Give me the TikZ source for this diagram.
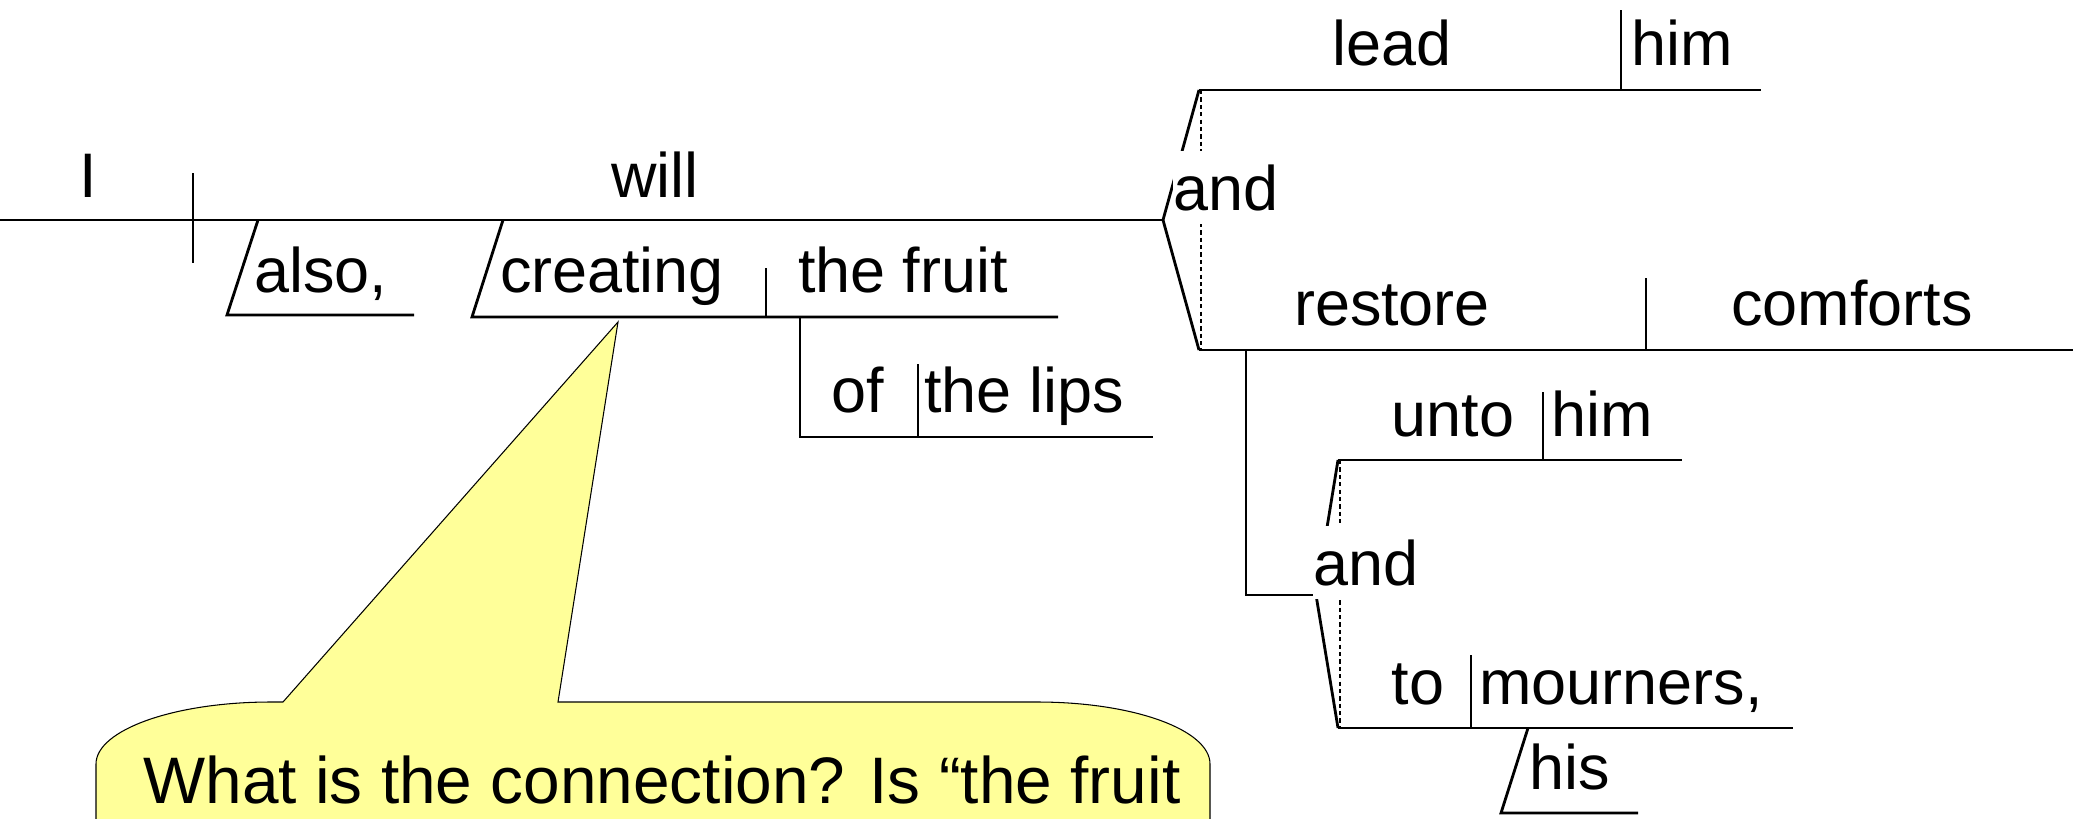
\documentclass[tikz,border=0pt]{standalone}
\usepackage{fontspec}
\setmainfont{Liberation Sans}
\definecolor{calloutyellow}{HTML}{FFFF99}
\begin{document}
\begin{tikzpicture}[x=0.01cm,y=-0.01cm,
  word/.style={anchor=base,inner sep=0pt,font=\fontsize{17.9pt}{21pt}\selectfont},
  bigword/.style={anchor=base,inner sep=0pt,font=\fontsize{18.7pt}{22pt}\selectfont},
  rule/.style={line width=0.8pt},
  dotrule/.style={line width=0.35pt,dash pattern=on 1.2pt off 0.9pt},
  conj/.style={word,fill=white,inner xsep=0.01cm,inner ysep=0.13cm},
  balloon/.style={fill=calloutyellow,draw=black,line width=0.3pt}]
\useasboundingbox (0,0) rectangle (2073,818);

% callout
\draw[balloon] (283,702) -- (618,322) -- (558,702) -- (1037,702)
  .. controls (1134,702) and (1210,730) .. (1210,764) -- (1210,900)
  -- (96,900) -- (96,764) .. controls (96,730) and (174,702) .. (271,702) -- cycle;
\node[bigword] (q) at (662,803) {What is the connection? Is “the fruit};

% coordinates
\coordinate (m0) at (0,220);
\coordinate (j1) at (1163,220);
\coordinate (sv1) at (193,173);
\coordinate (sv2) at (193,263);
\coordinate (al1) at (258,220);
\coordinate (al2) at (227,315);
\coordinate (al3) at (414,315);
\coordinate (cr1) at (503,220);
\coordinate (cr2) at (472,317);
\coordinate (cr3) at (1058,317);
\coordinate (cd1) at (766,268);
\coordinate (cd2) at (766,317);
\coordinate (of1) at (800,317);
\coordinate (of2) at (800,437);
\coordinate (of3) at (1153,437);
\coordinate (od1) at (918,364);
\coordinate (od2) at (918,437);
\coordinate (up1) at (1199,90);
\coordinate (up2) at (1761,90);
\coordinate (ud1) at (1621,10);
\coordinate (ud2) at (1621,90);
\coordinate (lo1) at (1199,350);
\coordinate (lo2) at (2073,350);
\coordinate (ld1) at (1646,278);
\coordinate (ld2) at (1646,350);
\coordinate (da1) at (1201,90);
\coordinate (da2) at (1201,350);
\coordinate (v1) at (1246,350);
\coordinate (v2) at (1246,595);
\coordinate (j2) at (1316,595);
\coordinate (un1) at (1338,460);
\coordinate (un2) at (1682,460);
\coordinate (und1) at (1543,392);
\coordinate (und2) at (1543,460);
\coordinate (mo1) at (1338,728);
\coordinate (mo2) at (1793,728);
\coordinate (mod1) at (1471,655);
\coordinate (mod2) at (1471,728);
\coordinate (db1) at (1340,460);
\coordinate (db2) at (1340,728);
\coordinate (hi1) at (1528,728);
\coordinate (hi2) at (1501,813);
\coordinate (hi3) at (1638,813);

% lines
\draw[rule] (m0) -- (j1);
\draw[rule] (sv1) -- (sv2);
\draw[rule] (al1) -- (al2) -- (al3);
\draw[rule] (cr1) -- (cr2) -- (cr3);
\draw[rule] (cd1) -- (cd2);
\draw[rule] (of1) -- (of2) -- (of3);
\draw[rule] (od1) -- (od2);
\draw[rule] (up1) -- (j1) -- (lo1);
\draw[rule] (up1) -- (up2);
\draw[rule] (ud1) -- (ud2);
\draw[rule] (lo1) -- (lo2);
\draw[rule] (ld1) -- (ld2);
\draw[dotrule] (da1) -- (da2);
\draw[rule] (v1) -- (v2) -- (j2);
\draw[rule] (un1) -- (j2) -- (mo1);
\draw[rule] (un1) -- (un2);
\draw[rule] (und1) -- (und2);
\draw[rule] (mo1) -- (mo2);
\draw[rule] (mod1) -- (mod2);
\draw[dotrule] (db1) -- (db2);
\draw[rule] (hi1) -- (hi2) -- (hi3);

% words
\node[word] (wI) at (88,197) {I};
\node[word] (wwill) at (655,197) {will};
\node[word] (walso) at (321,292) {also,};
\node[word] (wcreating) at (612,292) {creating};
\node[word] (wfruit) at (903,292) {the fruit};
\node[word] (wof) at (858,412) {of};
\node[word] (wlips) at (1024,412) {the lips};
\node[word] (wlead) at (1392,65) {lead};
\node[word] (whim1) at (1682,65) {him};
\node[conj] (wand1) at (1226,210) {and};
\node[word] (wrestore) at (1392,325) {restore};
\node[word] (wcomforts) at (1852,325) {comforts};
\node[word] (wunto) at (1453,436) {unto};
\node[word] (whim2) at (1602,436) {him};
\node[conj] (wand2) at (1366,585) {and};
\node[word] (wto) at (1418,704) {to};
\node[word] (wmourners) at (1621,704) {mourners,};
\node[word] (whis) at (1570,789) {his};
\end{tikzpicture}
\end{document}
